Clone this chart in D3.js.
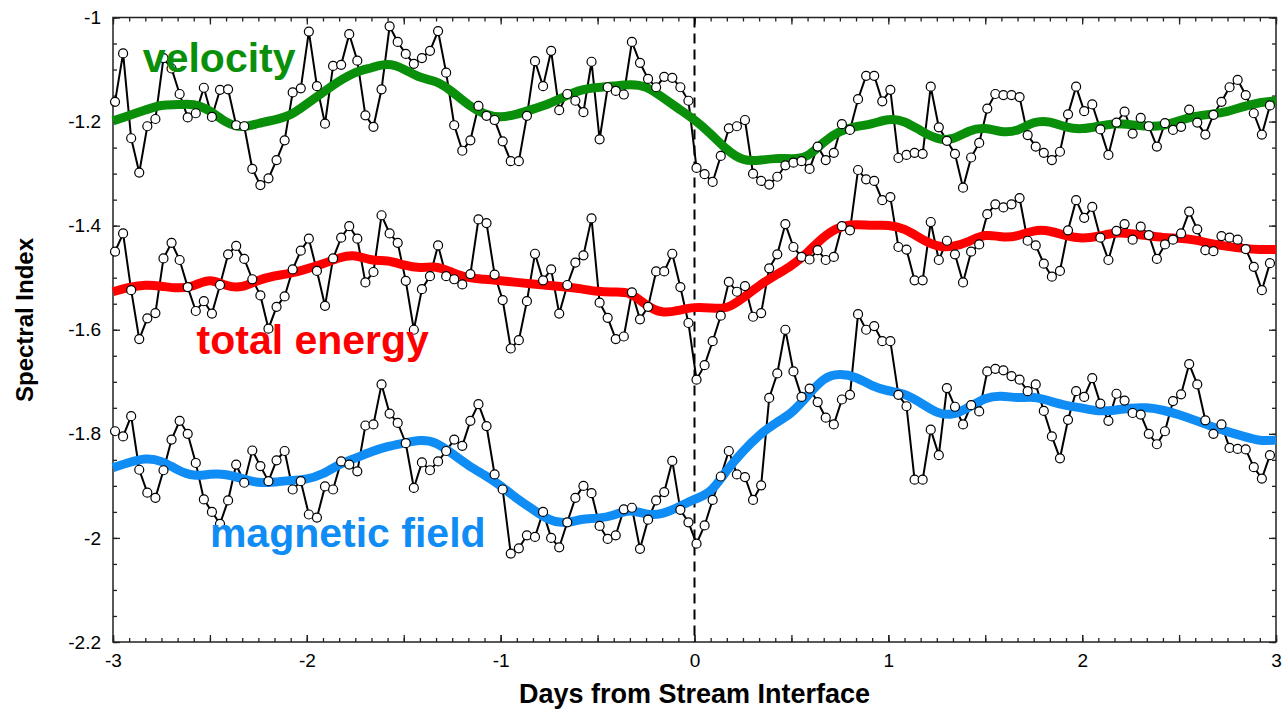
<!DOCTYPE html>
<html>
<head>
<meta charset="utf-8">
<script src="https://cdn.jsdelivr.net/npm/d3@7"></script>
<style>
    body { margin: 0; background: #fff; }
    #chart-area { width: 1286px; height: 711px; }
</style>
</head>
<body>
<div id="chart-area"></div>
<script>
// hourly spectral index values, 144 per series (day -3 .. +3)
const velocityRaw = [
    -1.162, -1.069, -1.232, -1.298, -1.209, -1.195, -1.078, -1.098, -1.147, -1.192, -1.184, -1.135,
    -1.191, -1.139, -1.138, -1.207, -1.209, -1.291, -1.322, -1.309, -1.274, -1.236, -1.144, -1.136,
    -1.027, -1.132, -1.204, -1.093, -1.091, -1.032, -1.083, -1.188, -1.210, -1.138, -1.017, -1.047,
    -1.070, -1.089, -1.078, -1.064, -1.026, -1.106, -1.207, -1.256, -1.236, -1.170, -1.189, -1.197,
    -1.238, -1.276, -1.276, -1.189, -1.084, -1.132, -1.064, -1.178, -1.147, -1.160, -1.182, -1.085,
    -1.234, -1.134, -1.141, -1.148, -1.047, -1.087, -1.118, -1.134, -1.114, -1.116, -1.134, -1.160,
    -1.289, -1.301, -1.316, -1.266, -1.213, -1.209, -1.197, -1.300, -1.314, -1.321, -1.306, -1.284,
    -1.279, -1.276, -1.291, -1.248, -1.274, -1.260, -1.205, -1.216, -1.157, -1.112, -1.112, -1.161,
    -1.139, -1.270, -1.264, -1.260, -1.262, -1.133, -1.211, -1.237, -1.262, -1.327, -1.269, -1.241,
    -1.175, -1.147, -1.149, -1.149, -1.153, -1.226, -1.248, -1.260, -1.274, -1.258, -1.186, -1.133,
    -1.180, -1.167, -1.215, -1.264, -1.202, -1.181, -1.223, -1.193, -1.209, -1.248, -1.203, -1.216,
    -1.210, -1.177, -1.202, -1.225, -1.187, -1.162, -1.134, -1.120, -1.149, -1.184, -1.225, -1.169
];
const energyRaw = [
    -1.450, -1.415, -1.524, -1.618, -1.578, -1.568, -1.463, -1.433, -1.466, -1.518, -1.564, -1.545,
    -1.569, -1.514, -1.455, -1.439, -1.464, -1.503, -1.534, -1.598, -1.556, -1.536, -1.484, -1.448,
    -1.425, -1.487, -1.554, -1.463, -1.423, -1.401, -1.425, -1.509, -1.489, -1.380, -1.415, -1.433,
    -1.506, -1.600, -1.522, -1.497, -1.438, -1.497, -1.503, -1.513, -1.493, -1.388, -1.395, -1.494,
    -1.543, -1.636, -1.620, -1.545, -1.454, -1.505, -1.484, -1.569, -1.514, -1.471, -1.457, -1.386,
    -1.548, -1.577, -1.618, -1.613, -1.528, -1.580, -1.556, -1.488, -1.488, -1.454, -1.518, -1.587,
    -1.696, -1.668, -1.622, -1.573, -1.508, -1.527, -1.516, -1.575, -1.568, -1.482, -1.455, -1.397,
    -1.441, -1.460, -1.465, -1.447, -1.466, -1.460, -1.401, -1.409, -1.293, -1.311, -1.314, -1.351,
    -1.345, -1.441, -1.446, -1.505, -1.505, -1.393, -1.466, -1.429, -1.455, -1.509, -1.450, -1.436,
    -1.378, -1.359, -1.365, -1.359, -1.347, -1.429, -1.438, -1.473, -1.498, -1.487, -1.409, -1.351,
    -1.385, -1.364, -1.423, -1.466, -1.410, -1.397, -1.427, -1.402, -1.418, -1.464, -1.436, -1.427,
    -1.415, -1.373, -1.407, -1.447, -1.449, -1.420, -1.423, -1.427, -1.445, -1.479, -1.524, -1.472
];
const magneticRaw = [
    -1.795, -1.805, -1.766, -1.869, -1.913, -1.923, -1.870, -1.811, -1.775, -1.800, -1.856, -1.926,
    -1.950, -1.973, -1.928, -1.859, -1.894, -1.832, -1.862, -1.891, -1.851, -1.833, -1.907, -1.891,
    -1.955, -1.961, -1.901, -1.907, -1.853, -1.859, -1.872, -1.784, -1.782, -1.705, -1.761, -1.779,
    -1.818, -1.904, -1.855, -1.870, -1.853, -1.833, -1.811, -1.823, -1.775, -1.743, -1.785, -1.878,
    -1.907, -2.030, -2.020, -1.995, -1.998, -1.950, -2.000, -2.018, -1.970, -1.923, -1.900, -1.914,
    -1.977, -2.002, -1.995, -1.945, -1.942, -2.021, -1.965, -1.928, -1.912, -1.852, -1.946, -1.970,
    -2.011, -1.976, -1.927, -1.882, -1.833, -1.878, -1.883, -1.927, -1.899, -1.731, -1.684, -1.600,
    -1.680, -1.729, -1.713, -1.739, -1.769, -1.782, -1.734, -1.725, -1.570, -1.600, -1.593, -1.622,
    -1.622, -1.725, -1.747, -1.888, -1.888, -1.792, -1.841, -1.712, -1.748, -1.782, -1.745, -1.757,
    -1.680, -1.675, -1.678, -1.689, -1.696, -1.718, -1.705, -1.756, -1.805, -1.847, -1.773, -1.718,
    -1.729, -1.693, -1.742, -1.775, -1.723, -1.736, -1.760, -1.763, -1.800, -1.820, -1.795, -1.737,
    -1.724, -1.666, -1.705, -1.774, -1.800, -1.782, -1.827, -1.829, -1.830, -1.864, -1.886, -1.841
];

// smoothed curves, one value every 2 hours (73 samples from -3 to +3)
const velocitySmooth = [
    -1.199, -1.188, -1.178, -1.167, -1.168, -1.165, -1.178, -1.203, -1.213, -1.203, -1.197, -1.189,
    -1.166, -1.144, -1.122, -1.104, -1.097, -1.087, -1.098, -1.117, -1.121, -1.142, -1.169, -1.187,
    -1.193, -1.186, -1.176, -1.166, -1.151, -1.138, -1.134, -1.132, -1.128, -1.131, -1.153, -1.175,
    -1.196, -1.223, -1.255, -1.276, -1.275, -1.270, -1.272, -1.270, -1.238, -1.217, -1.209, -1.205,
    -1.194, -1.198, -1.218, -1.234, -1.236, -1.216, -1.211, -1.221, -1.219, -1.199, -1.199, -1.212,
    -1.215, -1.209, -1.203, -1.206, -1.209, -1.209, -1.198, -1.189, -1.186, -1.181, -1.171, -1.163,
    -1.160
];
const energySmooth = [
    -1.527, -1.518, -1.513, -1.516, -1.521, -1.517, -1.500, -1.517, -1.520, -1.504, -1.496, -1.492,
    -1.483, -1.474, -1.461, -1.455, -1.468, -1.466, -1.476, -1.482, -1.477, -1.490, -1.501, -1.503,
    -1.506, -1.509, -1.512, -1.515, -1.518, -1.521, -1.527, -1.528, -1.526, -1.554, -1.569, -1.563,
    -1.556, -1.558, -1.561, -1.539, -1.515, -1.495, -1.478, -1.452, -1.420, -1.401, -1.397, -1.400,
    -1.398, -1.405, -1.425, -1.441, -1.441, -1.431, -1.415, -1.423, -1.421, -1.408, -1.409, -1.420,
    -1.425, -1.421, -1.413, -1.415, -1.419, -1.423, -1.424, -1.427, -1.435, -1.440, -1.444, -1.446,
    -1.446
];
const magneticSmooth = [
    -1.865, -1.855, -1.846, -1.851, -1.870, -1.882, -1.877, -1.877, -1.886, -1.895, -1.893, -1.889,
    -1.888, -1.878, -1.858, -1.847, -1.834, -1.824, -1.818, -1.811, -1.815, -1.838, -1.861, -1.879,
    -1.899, -1.925, -1.945, -1.967, -1.973, -1.963, -1.963, -1.957, -1.944, -1.956, -1.955, -1.941,
    -1.925, -1.915, -1.869, -1.833, -1.802, -1.779, -1.762, -1.727, -1.691, -1.684, -1.690, -1.709,
    -1.718, -1.722, -1.740, -1.761, -1.765, -1.749, -1.730, -1.726, -1.732, -1.728, -1.737, -1.746,
    -1.750, -1.757, -1.755, -1.750, -1.749, -1.754, -1.763, -1.774, -1.786, -1.796, -1.805, -1.814,
    -1.812
];

const seriesNames = ["velocity", "total energy", "magnetic field"];
const xTickLabels = [-3, -2, -1, 0, 1, 2, 3];
const yTickLabels = [-1, -1.2, -1.4, -1.6, -1.8, -2, -2.2];

class SpectralIndexChart {
    constructor(parentElement) {
        this.parentElement = parentElement;
        this.initVis();
    }

    initVis() {
        let vis = this;

        vis.margin = {top: 17.5, right: 10, bottom: 69, left: 113};
        vis.width = 1286 - vis.margin.left - vis.margin.right;
        vis.height = 711 - vis.margin.top - vis.margin.bottom;

        vis.svg = d3.select(`#${vis.parentElement}`)
            .append("svg")
            .attr("width", 1286)
            .attr("height", 711)
            .append("g")
            .attr("transform", `translate(${vis.margin.left},${vis.margin.top})`);

        vis.x = d3.scaleLinear().domain([-3, 3]).range([0, vis.width]);
        vis.y = d3.scaleLinear().domain([-2.2, -1]).range([vis.height, 0]);

        // colours and label anchors (in data units)
        vis.colors = ["#0a8f0a", "#ff0000", "#108cf5"];
        vis.labelAt = [[-2.846, -1.105], [-2.569, -1.646], [-2.5, -2.018]];

        vis.wrangleData();
    }

    wrangleData() {
        let vis = this;

        let raws = [velocityRaw, energyRaw, magneticRaw];
        let smooths = [velocitySmooth, energySmooth, magneticSmooth];

        vis.series = seriesNames.map((name, s) => ({
            name,
            raw: raws[s].map((v, i) => ({day: -3 + (i + 0.25) / 24, value: v})),
            smooth: smooths[s].map((v, k) => ({day: -3 + k / 12, value: v}))
        }));

        vis.updateVis();
    }

    updateVis() {
        let vis = this;
        let font = "'Liberation Sans', Arial, Helvetica, sans-serif";

        // ticks: majors every half day / 0.2, minors every 2 h / 0.05
        let xMinor = d3.range(-36, 37).map(k => k / 12);
        let xMajor = d3.range(-6, 7).map(k => k / 2);
        let yMinor = d3.range(0, 25).map(k => -2.2 + k * 0.05);

        // plain hyphen for negatives, like the original
        const fmt = d => String(+d.toFixed(2));

        const addAxis = (gen, transform, ticks, size, labels) => {
            let g = vis.svg.append("g")
                .attr("transform", transform)
                .call(gen.tickValues(ticks).tickSize(size).tickPadding(12)
                    .tickFormat(d => labels ? fmt(d) : ""));
            g.select(".domain").remove();
            g.selectAll(".tick line").attr("stroke", "#222").attr("stroke-width", 1.3);
            g.selectAll("text")
                .style("font-family", font)
                .style("font-size", "19px")
                .attr("fill", "#000");
            return g;
        };

        // bottom / top
        addAxis(d3.axisBottom(vis.x), `translate(0,${vis.height})`, xMinor, -4, false);
        addAxis(d3.axisBottom(vis.x), `translate(0,${vis.height})`, xMajor, -7, false);
        addAxis(d3.axisBottom(vis.x), `translate(0,${vis.height})`, xTickLabels, -7, true);
        addAxis(d3.axisTop(vis.x), "translate(0,0)", xMinor, -4, false);
        addAxis(d3.axisTop(vis.x), "translate(0,0)", xMajor, -7, false);
        // left / right
        addAxis(d3.axisLeft(vis.y), "translate(0,0)", yMinor, -4, false);
        addAxis(d3.axisLeft(vis.y), "translate(0,0)", yTickLabels, -7, true);
        addAxis(d3.axisRight(vis.y), `translate(${vis.width},0)`, yMinor, -4, false);
        addAxis(d3.axisRight(vis.y), `translate(${vis.width},0)`, yTickLabels, -7, false);

        // frame
        vis.svg.append("rect")
            .attr("width", vis.width)
            .attr("height", vis.height)
            .attr("fill", "none")
            .attr("stroke", "#222")
            .attr("stroke-width", 1.5);

        // stream interface marker
        vis.svg.append("line")
            .attr("x1", vis.x(0)).attr("x2", vis.x(0))
            .attr("y1", 0).attr("y2", vis.height)
            .attr("stroke", "#000")
            .attr("stroke-width", 2)
            .attr("stroke-dasharray", "10,6");

        let line = d3.line().x(d => vis.x(d.day)).y(d => vis.y(d.value));
        let smoothLine = d3.line().curve(d3.curveBasis).x(d => vis.x(d.day)).y(d => vis.y(d.value));

        // raw hourly traces
        vis.svg.selectAll(".raw-line")
            .data(vis.series)
            .enter()
            .append("path")
            .attr("class", "raw-line")
            .attr("d", d => line(d.raw))
            .attr("fill", "none")
            .attr("stroke", "#000")
            .attr("stroke-width", 2);

        // smoothed trends
        vis.svg.selectAll(".smooth-line")
            .data(vis.series)
            .enter()
            .append("path")
            .attr("class", "smooth-line")
            .attr("d", d => smoothLine(d.smooth))
            .attr("fill", "none")
            .attr("stroke", (d, i) => vis.colors[i])
            .attr("stroke-width", 9)
            .attr("stroke-linejoin", "round");

        // open circle markers
        vis.series.forEach(s => {
            vis.svg.append("g")
                .selectAll("circle")
                .data(s.raw)
                .enter()
                .append("circle")
                .attr("cx", d => vis.x(d.day))
                .attr("cy", d => vis.y(d.value))
                .attr("r", 4.5)
                .attr("fill", "#fff")
                .attr("stroke", "#000")
                .attr("stroke-width", 1.2);
        });

        // series labels
        vis.svg.selectAll(".series-label")
            .data(vis.series)
            .enter()
            .append("text")
            .attr("class", "series-label")
            .attr("x", (d, i) => vis.x(vis.labelAt[i][0]))
            .attr("y", (d, i) => vis.y(vis.labelAt[i][1]))
            .style("font-family", font)
            .style("font-size", "41px")
            .style("font-weight", "bold")
            .attr("fill", (d, i) => vis.colors[i])
            .text(d => d.name);

        // axis titles
        vis.svg.append("text")
            .attr("x", vis.x(0))
            .attr("y", vis.height + 61)
            .attr("text-anchor", "middle")
            .style("font-family", font)
            .style("font-size", "27px")
            .style("font-weight", "bold")
            .text("Days from Stream Interface");

        vis.svg.append("text")
            .attr("transform", "rotate(-90)")
            .attr("x", -(320 - vis.margin.top))
            .attr("y", -vis.margin.left + 33)
            .attr("text-anchor", "middle")
            .style("font-family", font)
            .style("font-size", "24px")
            .style("font-weight", "bold")
            .text("Spectral Index");
    }
}

new SpectralIndexChart("chart-area");
</script>
</body>
</html>
